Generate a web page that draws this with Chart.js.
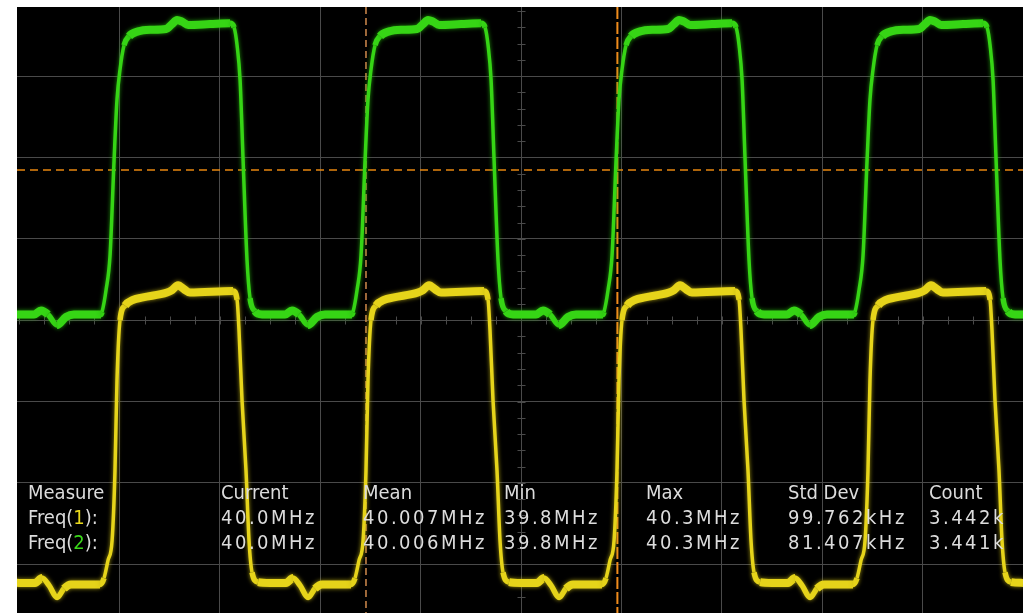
<!DOCTYPE html>
<html>
<head>
<meta charset="utf-8">
<script src="https://cdn.jsdelivr.net/npm/chart.js@4.4.1/dist/chart.umd.min.js"></script>
<style>
    html, body { margin: 0; padding: 0; background: #ffffff; }
    #scope {
        position: absolute;
        left: 17px;
        top: 7px;
        width: 1006px;
        height: 606px;
        background: #000000;
    }
</style>
</head>
<body>
<div id="scope"><canvas id="myChart" width="1006" height="606"></canvas></div>
<script>
    // time in ns (10 ns/div), level in divisions
    const greenT = [-50.79, -48.50, -47.81, -47.11, -46.21, -45.32, -44.52, -41.83,
        -41.73, -41.33, -40.93, -40.53, -40.24, -39.94, -39.54, -39.04, -38.14, -36.95, -35.36, -34.76, -34.26, -33.76, -33.16, -30.97, -28.98, -28.58, -28.28, -27.98, -27.69, -27.29, -26.99, -26.49, -25.79, -23.50, -22.81, -22.11, -21.21, -20.32, -19.52, -16.83,
        -16.73, -16.33, -15.93, -15.53, -15.24, -14.94, -14.54, -14.04, -13.14, -11.95, -10.36, -9.76, -9.26, -8.76, -8.16, -5.97, -3.98, -3.58, -3.28, -2.98, -2.69, -2.29, -1.99, -1.49, -0.79, 1.50, 2.19, 2.89, 3.79, 4.68, 5.48, 8.17,
        8.27, 8.67, 9.07, 9.47, 9.76, 10.06, 10.46, 10.96, 11.86, 13.05, 14.64, 15.24, 15.74, 16.24, 16.84, 19.03, 21.02, 21.42, 21.72, 22.02, 22.31, 22.71, 23.01, 23.51, 24.21, 26.50, 27.19, 27.89, 28.79, 29.68, 30.48, 33.17,
        33.27, 33.67, 34.07, 34.47, 34.76, 35.06, 35.46, 35.96, 36.86, 38.05, 39.64, 40.24, 40.74, 41.24, 41.84, 44.03, 46.02, 46.42, 46.72, 47.02, 47.31, 47.71, 48.01, 48.51, 49.21, 51.50];
    const greenV = [0.07, 0.07, 0.12, 0.07, -0.06, 0.04, 0.07, 0.07,
        0.10, 0.37, 0.80, 1.97, 2.71, 3.08, 3.38, 3.49, 3.55, 3.57, 3.58, 3.64, 3.69, 3.67, 3.63, 3.64, 3.65, 3.60, 3.38, 2.95, 2.00, 0.74, 0.27, 0.11, 0.07, 0.07, 0.12, 0.07, -0.06, 0.04, 0.07, 0.07,
        0.10, 0.37, 0.80, 1.97, 2.71, 3.08, 3.38, 3.49, 3.55, 3.57, 3.58, 3.64, 3.69, 3.67, 3.63, 3.64, 3.65, 3.60, 3.38, 2.95, 2.00, 0.74, 0.27, 0.11, 0.07, 0.07, 0.12, 0.07, -0.06, 0.04, 0.07, 0.07,
        0.10, 0.37, 0.80, 1.97, 2.71, 3.08, 3.38, 3.49, 3.55, 3.57, 3.58, 3.64, 3.69, 3.67, 3.63, 3.64, 3.65, 3.60, 3.38, 2.95, 2.00, 0.74, 0.27, 0.11, 0.07, 0.07, 0.12, 0.07, -0.06, 0.04, 0.07, 0.07,
        0.10, 0.37, 0.80, 1.97, 2.71, 3.08, 3.38, 3.49, 3.55, 3.57, 3.58, 3.64, 3.69, 3.67, 3.63, 3.64, 3.65, 3.60, 3.38, 2.95, 2.00, 0.74, 0.27, 0.11, 0.07, 0.07];

    const yellowT = [-51.19, -50.00, -48.40, -47.71, -47.01, -46.21, -45.52, -44.82, -42.03,
        -41.93, -41.53, -41.13, -40.73, -40.44, -40.24, -39.94, -39.44, -38.64, -37.65, -35.26, -34.76, -34.16, -33.56, -32.97, -28.68, -28.28, -28.09, -27.79, -27.39, -27.09, -26.79, -26.19, -25.00, -23.40, -22.71, -22.01, -21.21, -20.52, -19.82, -17.03,
        -16.93, -16.53, -16.13, -15.73, -15.44, -15.24, -14.94, -14.44, -13.64, -12.65, -10.26, -9.76, -9.16, -8.56, -7.97, -3.68, -3.28, -3.09, -2.79, -2.39, -2.09, -1.79, -1.19, 0.00, 1.60, 2.29, 2.99, 3.79, 4.48, 5.18, 7.97,
        8.07, 8.47, 8.87, 9.27, 9.56, 9.76, 10.06, 10.56, 11.36, 12.35, 14.74, 15.24, 15.84, 16.44, 17.03, 21.32, 21.72, 21.91, 22.21, 22.61, 22.91, 23.21, 23.81, 25.00, 26.60, 27.29, 27.99, 28.79, 29.48, 30.18, 32.97,
        33.07, 33.47, 33.87, 34.27, 34.56, 34.76, 35.06, 35.56, 36.36, 37.35, 39.74, 40.24, 40.84, 41.44, 42.03, 46.32, 46.72, 46.91, 47.21, 47.61, 47.91, 48.21, 48.81, 50.00, 51.60];
    const yellowV = [-3.22, -3.23, -3.23, -3.17, -3.26, -3.41, -3.30, -3.25, -3.25,
        -3.25, -3.17, -2.95, -2.71, -1.85, -0.74, 0.00, 0.18, 0.25, 0.28, 0.34, 0.37, 0.43, 0.38, 0.34, 0.36, 0.25, -0.12, -0.98, -1.85, -2.71, -3.10, -3.22, -3.23, -3.23, -3.17, -3.26, -3.41, -3.30, -3.25, -3.25,
        -3.25, -3.17, -2.95, -2.71, -1.85, -0.74, 0.00, 0.18, 0.25, 0.28, 0.34, 0.37, 0.43, 0.38, 0.34, 0.36, 0.25, -0.12, -0.98, -1.85, -2.71, -3.10, -3.22, -3.23, -3.23, -3.17, -3.26, -3.41, -3.30, -3.25, -3.25,
        -3.25, -3.17, -2.95, -2.71, -1.85, -0.74, 0.00, 0.18, 0.25, 0.28, 0.34, 0.37, 0.43, 0.38, 0.34, 0.36, 0.25, -0.12, -0.98, -1.85, -2.71, -3.10, -3.22, -3.23, -3.23, -3.17, -3.26, -3.41, -3.30, -3.25, -3.25,
        -3.25, -3.17, -2.95, -2.71, -1.85, -0.74, 0.00, 0.18, 0.25, 0.28, 0.34, 0.37, 0.43, 0.38, 0.34, 0.36, 0.25, -0.12, -0.98, -1.85, -2.71, -3.10, -3.22, -3.23];

    const xTicks = [-40, -30, -20, -10, 0, 10, 20, 30, 40];
    const yTicks = [-3, -2, -1, 0, 1, 2, 3];

    const cursorT = -15.44;   // vertical cursor
    const triggerT = 9.6;     // trigger position
    const triggerLevel = 1.845;

    const measureHeads = ['Measure', 'Current', 'Mean', 'Min', 'Max', 'Std Dev', 'Count'];
    const freq1Row = ['40.0MHz', '40.007MHz', '39.8MHz', '40.3MHz', '99.762kHz', '3.442k'];
    const freq2Row = ['40.0MHz', '40.006MHz', '39.8MHz', '40.3MHz', '81.407kHz', '3.441k'];

    const toPts = (ts, vs) => ts.map((t, i) => ({ x: t, y: vs[i] }));

    // thin on the steep edges, thick (noisy band) on the flat parts
    const traceWidth = (ctx) => {
        const dx = Math.abs(ctx.p1.x - ctx.p0.x);
        const dy = Math.abs(ctx.p1.y - ctx.p0.y);
        if (dy > 3 * dx) return 3.5;
        if (dy > dx) return 5.5;
        return 8;
    };

    const glow = {
        id: 'glow',
        beforeDatasetDraw(chart, args) {
            const ctx = chart.ctx;
            ctx.save();
            ctx.shadowColor = args.index === 0 ? 'rgba(200,185,20,0.8)' : 'rgba(40,180,15,0.8)';
            ctx.shadowBlur = 4;
        },
        afterDatasetDraw(chart) {
            chart.ctx.restore();
        }
    };

    const overlay = {
        id: 'overlay',
        beforeDatasetsDraw(chart) {
            const { ctx, chartArea: a, scales: { x, y } } = chart;
            ctx.save();
            ctx.strokeStyle = '#4a4a4a';
            ctx.lineWidth = 1;
            // minor ticks on the centre axes
            const cx = Math.round(x.getPixelForValue(0)) + 0.5;
            const cy = Math.round(y.getPixelForValue(0)) + 0.5;
            ctx.beginPath();
            for (let v = -3.6; v <= 3.9; v += 0.2) {
                const py = Math.round(y.getPixelForValue(v)) + 0.5;
                ctx.moveTo(cx - 4, py); ctx.lineTo(cx + 4, py);
            }
            for (let t = -50; t <= 50; t += 2.5) {
                const px = Math.round(x.getPixelForValue(t)) + 0.5;
                ctx.moveTo(px, cy - 4); ctx.lineTo(px, cy + 4);
            }
            ctx.stroke();

            // trigger level
            ctx.strokeStyle = '#e8870f';
            ctx.lineWidth = 1.5;
            ctx.setLineDash([8, 5]);
            const ly = y.getPixelForValue(triggerLevel);
            ctx.beginPath(); ctx.moveTo(a.left, ly); ctx.lineTo(a.right, ly); ctx.stroke();
            // cursor
            ctx.strokeStyle = '#d08a4c';
            ctx.setLineDash([7, 4]);
            const c1 = x.getPixelForValue(cursorT);
            ctx.beginPath(); ctx.moveTo(c1, a.top); ctx.lineTo(c1, a.bottom); ctx.stroke();
            // trigger position
            ctx.strokeStyle = '#f08c1c';
            ctx.lineWidth = 2;
            ctx.setLineDash([12, 3]);
            const c2 = x.getPixelForValue(triggerT);
            ctx.beginPath(); ctx.moveTo(c2, a.top); ctx.lineTo(c2, a.bottom); ctx.stroke();
            ctx.restore();
        },
        afterDatasetsDraw(chart) {
            const ctx = chart.ctx;
            const cols = [11, 204, 346, 487, 629, 771, 912];
            const rows = [492, 517, 542];
            ctx.save();
            ctx.fillStyle = '#dcdcdc';
            ctx.textBaseline = 'alphabetic';
            ctx.font = '20px "DejaVu Sans Condensed", "DejaVu Sans"';
            measureHeads.forEach((h, i) => ctx.fillText(h, cols[i], rows[0]));

            const label = (n, color, row) => {
                let px = cols[0];
                ctx.fillStyle = '#dcdcdc';
                ctx.fillText('Freq(', px, row);
                px += ctx.measureText('Freq(').width;
                ctx.fillStyle = color;
                ctx.fillText(n, px, row);
                px += ctx.measureText(n).width;
                ctx.fillStyle = '#dcdcdc';
                ctx.fillText('):', px, row);
            };
            label('1', '#e8d81c', rows[1]);
            label('2', '#3bd81a', rows[2]);

            ctx.fillStyle = '#dcdcdc';
            ctx.letterSpacing = '2.5px';
            freq1Row.forEach((s, i) => ctx.fillText(s, cols[i + 1], rows[1]));
            freq2Row.forEach((s, i) => ctx.fillText(s, cols[i + 1], rows[2]));
            ctx.restore();
        }
    };

    const ctx = document.getElementById('myChart').getContext('2d');
    const myChart = new Chart(ctx, {
        type: 'line',
        data: {
            datasets: [{
                label: 'Channel 1',
                data: toPts(yellowT, yellowV),
                borderColor: '#e6d41a',
                borderWidth: 8,
                borderJoinStyle: 'round',
                borderCapStyle: 'butt',
                pointRadius: 0,
                cubicInterpolationMode: 'monotone',
                segment: { borderWidth: traceWidth }
            }, {
                label: 'Channel 2',
                data: toPts(greenT, greenV),
                borderColor: '#36d515',
                borderWidth: 8,
                borderJoinStyle: 'round',
                borderCapStyle: 'butt',
                pointRadius: 0,
                cubicInterpolationMode: 'monotone',
                segment: { borderWidth: traceWidth }
            }]
        },
        options: {
            responsive: false,
            animation: false,
            events: [],
            layout: { padding: 0 },
            plugins: { legend: { display: false }, tooltip: { enabled: false } },
            scales: {
                x: {
                    type: 'linear',
                    min: -50.2,
                    max: 50.0,
                    afterBuildTicks: (s) => { s.ticks = xTicks.map(v => ({ value: v })); },
                    ticks: { display: false },
                    border: { display: false },
                    grid: { color: '#4a4a4a', lineWidth: 1, drawTicks: false }
                },
                y: {
                    min: -3.60,
                    max: 3.85,
                    afterBuildTicks: (s) => { s.ticks = yTicks.map(v => ({ value: v })); },
                    ticks: { display: false },
                    border: { display: false },
                    grid: { color: '#4a4a4a', lineWidth: 1, drawTicks: false }
                }
            }
        },
        plugins: [glow, overlay]
    });
</script>
</body>
</html>
